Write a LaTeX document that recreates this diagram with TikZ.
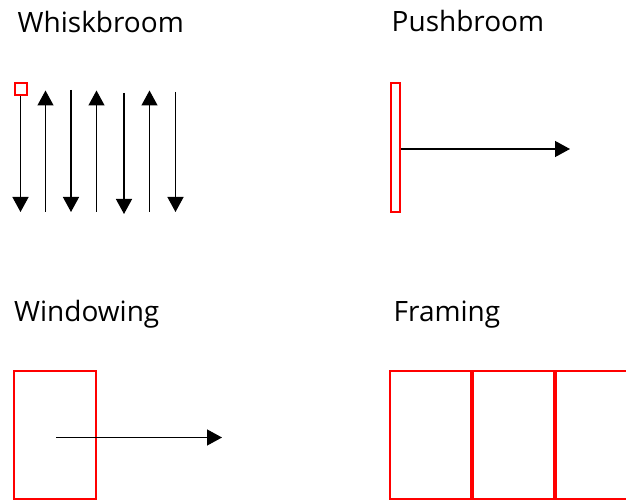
\documentclass[tikz,border=0pt]{standalone}
\usepackage{fontspec}
\setmainfont{Open Sans}
\usepackage{tikz}
\usetikzlibrary{arrows.meta, positioning}

\begin{document}
\begin{tikzpicture}[x=1pt, y=-1pt, font=\fontsize{28}{30}\selectfont,
  lbl/.style={anchor=base west, inner sep=0pt},
  win/.style={draw=red, line width=2pt, inner sep=0pt},
  a/.style={-{Triangle[length=15pt, width=16pt]}, line width=1.3pt, draw=black}]
  \useasboundingbox (0,0) rectangle (626,502);
  % titles
  \node[lbl] (whisk) at (17.5,33)  {Whiskbroom};
  \node[lbl] (push)  at (391.5,32) {Pushbroom};
  \node[lbl] (wind)  at (14,322) {Windowing};
  \node[lbl] (frame) at (393.5,322) {Framing};
  % whiskbroom: one detector sweeping back and forth
  \node[win, minimum size=12pt] (pix) at (20.5,89) {};
  \coordinate (wb1) at (20.5,212);
  \draw[a] (pix.south) -- (wb1);
  \foreach \i/\x/\ya/\yb in {2/45.5/212/90.5, 3/71/90/212, 4/96.5/212/90.5,
                             5/124/93/214, 6/149.5/212/90.5, 7/175.5/92/212} {
    \coordinate (ws\i) at (\x,\ya);
    \coordinate (we\i) at (\x,\yb);
    \draw[a] (ws\i) -- (we\i);
  }
  % pushbroom: a line of detectors moving along track
  \node[win, minimum width=9pt, minimum height=129pt] (bar) at (395.3,147.5) {};
  \coordinate (pend) at (570,149);
  \draw[a] (bar.east |- pend) -- (pend);
  % windowing
  \node[win, minimum width=82pt, minimum height=128pt] (wbox) at (55,435) {};
  \coordinate (wstart) at (56,437.5);
  \coordinate (wend) at (222,437.5);
  \draw[a] (wstart) -- (wend);
  % framing
  \node[win, minimum width=81pt, minimum height=128pt] (f1) at (430.5,435) {};
  \node[win, minimum width=81pt, minimum height=128pt, right=0pt of f1] (f2) {};
  \node[win, minimum width=81pt, minimum height=128pt, right=0pt of f2] (f3) {};
\end{tikzpicture}
\end{document}
